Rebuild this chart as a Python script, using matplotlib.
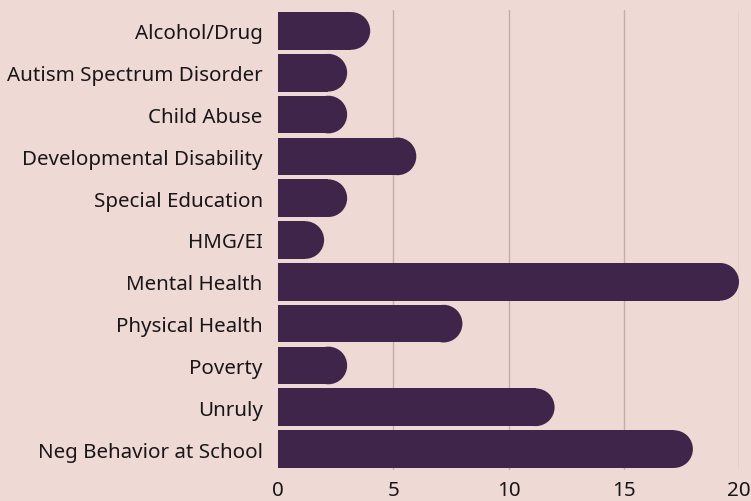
import matplotlib
matplotlib.use("Agg")
import matplotlib.pyplot as plt
from matplotlib.patches import Rectangle, Ellipse

categories = ["Alcohol/Drug", "Autism Spectrum Disorder", "Child Abuse",
              "Developmental Disability", "Special Education", "HMG/EI",
              "Mental Health", "Physical Health", "Poverty", "Unruly",
              "Neg Behavior at School"]
values = [4, 3, 3, 6, 3, 2, 20, 8, 3, 12, 18]
xticks = [0, 5, 10, 15, 20]

BG = "#EFD9D5"
BAR = "#3E2549"
GRID = "#C3ADA9"
TXT = "#1A1618"

plt.rcParams['font.family'] = ['Noto Sans', 'DejaVu Sans']

W, H = 751, 502
fig = plt.figure(figsize=(W / 100, H / 100), dpi=100, facecolor=BG)
ax = fig.add_axes([278 / W, 1 - 471 / H, 461 / W, 460 / H])
ax.set_facecolor(BG)

n = len(categories)
ax.set_xlim(0, 20)
ax.set_ylim(n - 0.5, -0.5)

px_x = 461 / 20.0
px_y = 460 / n
bh = 0.9
rx = (bh / 2) * px_y / px_x

for t in xticks[1:]:
    ax.axvline(t, color=GRID, lw=1, zorder=1)

for i, v in enumerate(values):
    L = max(v - rx, 0)
    ax.add_patch(Rectangle((0, i - bh / 2), L, bh, facecolor=BAR, edgecolor='none', zorder=2))
    ax.add_patch(Ellipse((L, i), 2 * rx, bh, facecolor=BAR, edgecolor='none', zorder=2))

ax.set_yticks(range(n))
ax.set_yticklabels(categories)
ax.set_xticks(xticks)
ax.set_xticklabels([str(t) for t in xticks])
ax.tick_params(axis='both', length=0, labelsize=14.8, colors=TXT)
ax.tick_params(axis='y', pad=11)
ax.tick_params(axis='x', pad=7.5)
for s in ax.spines.values():
    s.set_visible(False)
for p in ax.patches:
    p.set_clip_on(False)

fig.savefig("out.png", dpi=100, facecolor=BG)
